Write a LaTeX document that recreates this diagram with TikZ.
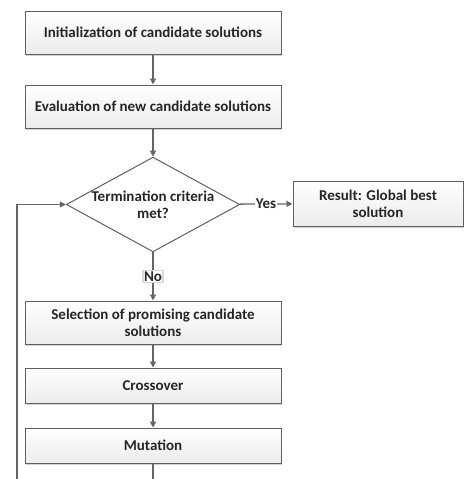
\documentclass[tikz,border=0pt]{standalone}
\usepackage{fontspec}
\setmainfont{Carlito}
\usetikzlibrary{shapes.geometric,arrows.meta,shadows}
\begin{document}
\begin{tikzpicture}[x=1pt,y=-1pt,
  font=\fontsize{15}{17}\selectfont\bfseries,
  box/.style={draw=gray!75!black, line width=1pt, top color=white, bottom color=gray!15,
    drop shadow={shadow xshift=1pt,shadow yshift=-1.5pt,opacity=0.35},
    minimum width=256pt, inner sep=0pt, align=center, text=black!85},
  decision/.style={draw=gray!75!black, line width=1pt, fill=white, diamond, aspect=1.83,
    minimum width=172pt, minimum height=94pt, inner sep=0pt, align=center, text=black!85},
  conn/.style={draw=gray!80!black, line width=1.3pt, -{Triangle[length=6pt,width=6pt]}},
  lbl/.style={fill=white, inner sep=1pt, text=black!85}]
\useasboundingbox (0,0) rectangle (464,479);
\clip (0,0) rectangle (464,479);
\node [box, minimum height=43pt] (init) at (153,32.5) {Initialization of candidate solutions};
\node [box, minimum height=43pt] (eval) at (153,106.5) {Evaluation of new candidate solutions};
\node [decision] (term) at (153,204.5) {Termination criteria\\met?};
\node [box, minimum width=170pt, minimum height=45pt] (result) at (378,203.5) {Result: Global best\\solution};
\node [box, minimum height=43pt] (select) at (153,322.5) {Selection of promising candidate\\solutions};
\node [box, minimum height=35pt] (cross) at (153,385.5) {Crossover};
\node [box, minimum height=35pt] (mutate) at (153,445.5) {Mutation};
\coordinate (loopdown) at (153,490);
\coordinate (loopleft) at (17,490);
\draw [conn] (init) -- (eval);
\draw [conn] (eval) -- (term);
\draw [conn] (term) -- node [lbl] {Yes} (result);
\draw [conn] (term) -- node [lbl, draw=gray!30] {No} (select);
\draw [conn] (select) -- (cross);
\draw [conn] (cross) -- (mutate);
\draw [conn] (mutate) -- (loopdown) -- (loopleft) |- (term);
\end{tikzpicture}
\end{document}
